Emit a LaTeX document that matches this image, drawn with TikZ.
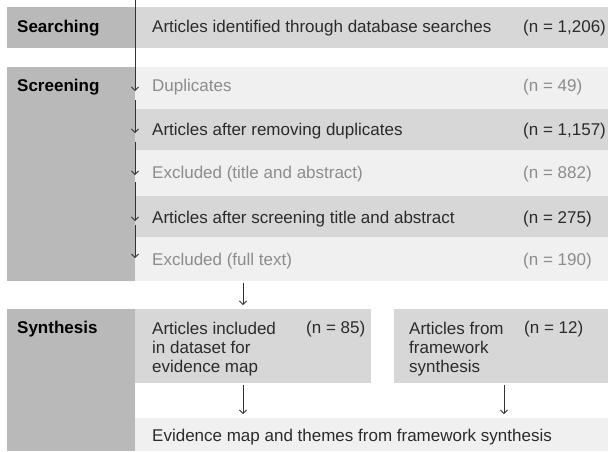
\documentclass[tikz,border=0pt]{standalone}
\usepackage{fontspec}
\setmainfont{Liberation Sans}
\usetikzlibrary{arrows.meta,calc}
\definecolor{cLeft}{HTML}{B9B9B9}
\definecolor{cDark}{HTML}{D7D7D7}
\definecolor{cLight}{HTML}{F0F0F0}
\definecolor{cTxt}{HTML}{2B2B2B}
\definecolor{cGrey}{HTML}{8C8C8C}
\definecolor{cLine}{HTML}{333333}
\begin{document}
\begin{tikzpicture}[x=1pt,y=-1pt,
  panel/.style={draw=none, inner sep=0pt, outer sep=0pt, anchor=north west},
  lbl/.style={inner sep=0pt, anchor=base west, font=\fontsize{17}{19}\selectfont\bfseries, text=black},
  txt/.style={inner sep=0pt, anchor=base west, font=\fontsize{17}{19}\selectfont, text=cTxt},
  gtxt/.style={txt, text=cGrey},
  mtxt/.style={inner sep=0pt, anchor=north west, align=left, font=\fontsize{17}{19}\selectfont, text=cTxt},
  arr/.style={draw=cLine, line width=0.8pt, -{Straight Barb[length=3.5pt,width=7pt]}}
]
\useasboundingbox (0,0) rectangle (608,451);
% left stage boxes
\node[panel, fill=cLeft, minimum width=128pt, minimum height=41pt] (lsearch) at (7,7) {};
\node[panel, fill=cLeft, minimum width=128pt, minimum height=214pt] (lscreen) at (7,67) {};
\node[panel, fill=cLeft, minimum width=128pt, minimum height=142pt] (lsynth) at (7,309) {};
% rows
\node[panel, fill=cDark, minimum width=473pt, minimum height=41pt] (rid) at (135,7) {};
\node[panel, fill=cLight, minimum width=473pt, minimum height=42pt] (rdup) at (135,67) {};
\node[panel, fill=cDark, minimum width=473pt, minimum height=40.5pt] (rrem) at (135,109) {};
\node[panel, fill=cLight, minimum width=473pt, minimum height=46.5pt] (rexta) at (135,149.5) {};
\node[panel, fill=cDark, minimum width=473pt, minimum height=40.5pt] (rscr) at (135,196) {};
\node[panel, fill=cLight, minimum width=473pt, minimum height=44.5pt] (rexft) at (135,236.5) {};
\node[panel, fill=cDark, minimum width=236pt, minimum height=74pt] (rinc) at (135,309) {};
\node[panel, fill=cDark, minimum width=214pt, minimum height=74pt] (rfw) at (394,309) {};
\node[panel, fill=cLight, minimum width=473pt, minimum height=33pt] (rmap) at (135,418) {};
% labels
\node[lbl] (lab1) at (17,32) {Searching};
\node[lbl] (lab2) at (17,91) {Screening};
\node[lbl] (lab3) at (17,333) {Synthesis};
% row texts
\node[txt] (t1) at (152,32) {Articles identified through database searches};
\node[txt] (n1) at (523,32) {(n = 1,206)};
\node[gtxt] (t2) at (152,91) {Duplicates};
\node[gtxt] (n2) at (523,91) {(n = 49)};
\node[txt] (t3) at (152,135) {Articles after removing duplicates};
\node[txt] (n3) at (523,135) {(n = 1,157)};
\node[gtxt] (t4) at (152,178) {Excluded (title and abstract)};
\node[gtxt] (n4) at (523,178) {(n = 882)};
\node[txt] (t5) at (152,223) {Articles after screening title and abstract};
\node[txt] (n5) at (523,223) {(n = 275)};
\node[gtxt] (t6) at (152,265.5) {Excluded (full text)};
\node[gtxt] (n6) at (523,265.5) {(n = 190)};
\node[mtxt] (t7) at (152,321.5) {Articles included\\in dataset for\\evidence map};
\node[txt] (n7) at (306,333) {(n = 85)};
\node[mtxt] (t8) at (409,321.5) {Articles from\\framework\\synthesis};
\node[txt] (n8) at (524,333) {(n = 12)};
\node[txt] (t9) at (152,441) {Evidence map and themes from framework synthesis};
% arrows along the screening column
\coordinate (a0) at (135,0);
\coordinate (a1) at ($(rdup.north west)+(0,24)$);
\coordinate (b1) at ($(rdup.north west)+(0,33)$);
\coordinate (a2) at ($(rrem.north west)+(0,24)$);
\coordinate (b2) at ($(rrem.north west)+(0,32.5)$);
\coordinate (a3) at ($(rexta.north west)+(0,25.5)$);
\coordinate (b3) at ($(rexta.north west)+(0,32.5)$);
\coordinate (a4) at ($(rscr.north west)+(0,25)$);
\coordinate (b4) at ($(rscr.north west)+(0,29)$);
\coordinate (a5) at ($(rexft.north west)+(0,21.5)$);
\draw[arr] (a0) -- (a1);
\draw[arr] (b1) -- (a2);
\draw[arr] (b2) -- (a3);
\draw[arr] (b3) -- (a4);
\draw[arr] (b4) -- (a5);
% synthesis arrows
\draw[arr] ($(rexft.south west)+(108,2)$) -- ($(rinc.north west)+(108,-4)$);
\draw[arr] ($(rinc.south west)+(108,2)$) -- ($(rmap.north west)+(108,-4)$);
\draw[arr] ($(rfw.south west)+(110,2)$) -- ($(rmap.north west)+(369,-4)$);
\end{tikzpicture}
\end{document}
